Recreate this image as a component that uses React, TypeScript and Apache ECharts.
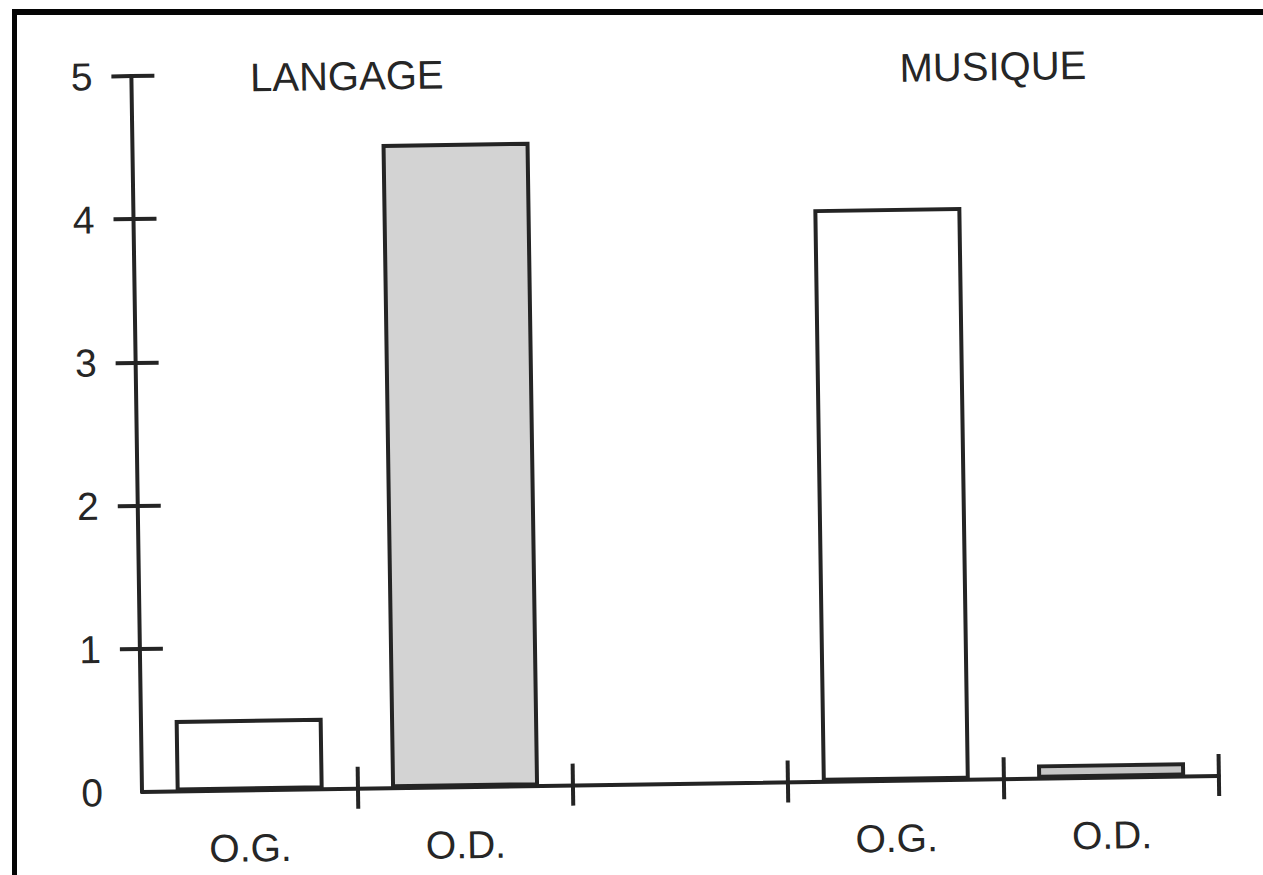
import React, { useEffect, useRef } from 'react';
import * as echarts from 'echarts';

// ---- data ----
const categories = ['LANGAGE O.G.', 'LANGAGE O.D.', 'vide', 'MUSIQUE O.G.', 'MUSIQUE O.D.'];
const tickLabels = ['O.G.', 'O.D.', '', 'O.G.', 'O.D.'];
const values: (number | null)[] = [0.5, 4.5, null, 4.0, 0.1];
const yTickValues = [1, 2, 3, 4, 5];
const yLabelValues = [0, 1, 2, 3, 4, 5];
const groupTitles = ['LANGAGE', 'MUSIQUE'];
const groupSpans = [
  [0, 1],
  [3, 4],
];

// ---- styles ----
const fills = ['#ffffff', '#d3d3d3', '#ffffff', '#ffffff', '#c6c6c6'];
const INK = '#242424';
const TEXT = '#262626';
const FONT = '"Liberation Sans", Arial, Helvetica, sans-serif';
const FS = 39;
const TITLE_FS = 40;

function Chart() {
  const ref = useRef<HTMLDivElement>(null);
  useEffect(() => {
    if (!ref.current) return;
    const chart = echarts.init(ref.current, null, { renderer: 'svg' });
    const line = { color: INK, width: 4 };
    chart.setOption({
      animation: false,
      backgroundColor: 'transparent',
      grid: { left: 142, right: 44, top: 76, bottom: 83, containLabel: false },
      xAxis: [
        {
          type: 'category',
          data: categories,
          position: 'bottom',
          boundaryGap: true,
          axisLine: { show: true, onZero: false, lineStyle: line },
          axisTick: {
            show: true,
            inside: false,
            length: 20,
            interval: (i: number) => i > 0,
            lineStyle: line,
          },
          axisLabel: {
            show: true,
            interval: 0,
            margin: 38,
            color: TEXT,
            fontSize: FS,
            fontFamily: FONT,
            formatter: (_v: string, i: number) => tickLabels[i],
          },
          splitLine: { show: false },
        },
        {
          type: 'category',
          data: categories,
          position: 'bottom',
          boundaryGap: true,
          axisLine: { show: false, onZero: false },
          axisTick: {
            show: true,
            inside: true,
            length: 22,
            interval: (i: number) => i > 0,
            lineStyle: line,
          },
          axisLabel: { show: false },
          splitLine: { show: false },
        },
      ],
      yAxis: [
        {
          type: 'value',
          min: 0,
          max: 5,
          interval: 1,
          position: 'left',
          axisLine: { show: true, lineStyle: line },
          axisTick: { show: true, inside: false, length: 20, customValues: yTickValues, lineStyle: line },
          axisLabel: {
            show: true,
            margin: 39,
            color: TEXT,
            fontSize: FS,
            fontFamily: FONT,
            customValues: yLabelValues,
          },
          splitLine: { show: false },
        },
        {
          type: 'value',
          min: 0,
          max: 5,
          interval: 1,
          position: 'left',
          axisLine: { show: false },
          axisTick: { show: true, inside: true, length: 23, customValues: yTickValues, lineStyle: line },
          axisLabel: { show: false },
          splitLine: { show: false },
        },
      ],
      series: [
        {
          type: 'bar',
          xAxisIndex: 0,
          yAxisIndex: 0,
          barWidth: 148,
          data: values.map((v, i) => ({
            value: v,
            itemStyle: { color: fills[i], borderColor: INK, borderWidth: 4 },
          })),
        },
      ],
    });

    const px = (name: string) => chart.convertToPixel({ xAxisIndex: 0 }, name) as number;
    const topY = (chart.convertToPixel({ yAxisIndex: 0 }, 5) as number) + 3;
    chart.setOption({
      graphic: groupTitles.map((t, i) => ({
        type: 'text',
        x: (px(categories[groupSpans[i][0]]) + px(categories[groupSpans[i][1]])) / 2,
        y: topY,
        style: {
          text: t,
          fontSize: TITLE_FS,
          fontFamily: FONT,
          fill: TEXT,
          align: 'center',
          verticalAlign: 'middle',
        },
      })),
    });

    return () => chart.dispose();
  }, []);

  return (
    <div
      ref={ref}
      style={{
        position: 'absolute',
        left: 0,
        top: 0,
        width: 1263,
        height: 875,
        transform: 'rotate(-0.85deg)',
        transformOrigin: '142px 792px',
      }}
    />
  );
}

export default function App() {
  return (
    <div
      style={{
        position: 'fixed',
        left: 0,
        top: 0,
        width: 1263,
        height: 875,
        background: '#ffffff',
        overflow: 'hidden',
      }}
    >
      <Chart />
      <div
        style={{
          position: 'absolute',
          left: 12,
          top: 9,
          width: 1263,
          height: 900,
          borderTop: '6px solid #050505',
          borderLeft: '5px solid #050505',
          boxSizing: 'border-box',
          pointerEvents: 'none',
        }}
      />
    </div>
  );
}
